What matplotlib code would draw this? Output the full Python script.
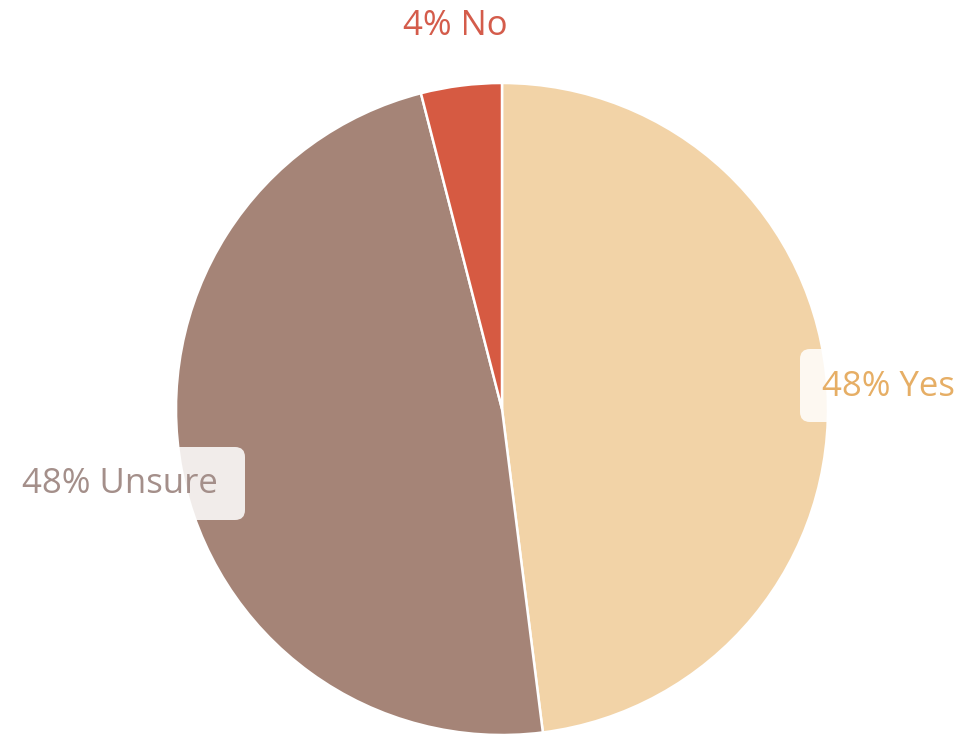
import matplotlib
matplotlib.use("Agg")
import matplotlib.pyplot as plt
from matplotlib.patches import FancyBboxPatch

labels = ["Yes", "Unsure", "No"]
values = [48, 48, 4]
colors = ["#f2d3a7", "#a58477", "#d65a42"]
text_colors = ["#e6ae65", "#a48f8a", "#d45c4b"]

W, H = 958, 737
fig = plt.figure(figsize=(W / 100, H / 100), dpi=100)
ax = fig.add_axes([0, 0, 1, 1])

cx, cy, r = 502, 409, 326
wedges, _ = ax.pie(values, colors=colors, startangle=-90, counterclock=True,
                   center=(cx, cy), radius=r, frame=True,
                   wedgeprops=dict(edgecolor="white", linewidth=1.8))
ax.set_xlim(0, W)
ax.set_ylim(H, 0)
ax.set_aspect("equal")
ax.axis("off")

font = "Open Sans"
fs = 25

# Yes label with box
ax.add_patch(FancyBboxPatch((800, 349), 180, 73,
                            boxstyle="round,pad=0,rounding_size=10",
                            facecolor="white", edgecolor="none", alpha=0.85,
                            zorder=3))
ax.text(822, 387, f"{values[0]}% {labels[0]}", color=text_colors[0], fontsize=fs,
        family=font, ha="left", va="center", zorder=4)

# Unsure label with box
ax.add_patch(FancyBboxPatch((-20, 447), 265, 73,
                            boxstyle="round,pad=0,rounding_size=10",
                            facecolor="white", edgecolor="none", alpha=0.85,
                            zorder=3))
ax.text(218, 484, f"{values[1]}% {labels[1]}", color=text_colors[1], fontsize=fs,
        family=font, ha="right", va="center", zorder=4)

# No label
ax.text(455, 26, f"{values[2]}% {labels[2]}", color=text_colors[2], fontsize=fs,
        family=font, ha="center", va="center", zorder=4)

fig.savefig("out.png", dpi=100)
